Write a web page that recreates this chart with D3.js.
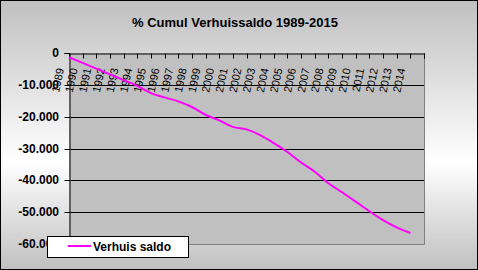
<!DOCTYPE html>
<html>
<head>
<meta charset="utf-8">
<script src="https://cdn.jsdelivr.net/npm/d3@7"></script>
<style>
  body { margin: 0; }
  svg { display: block; font-family: Arial, "Liberation Sans", sans-serif; }
</style>
</head>
<body>
<script>
// cumulative migration balance per year
const years = [1989, 1990, 1991, 1992, 1993, 1994, 1995, 1996, 1997, 1998, 1999, 2000, 2001,
    2002, 2003, 2004, 2005, 2006, 2007, 2008, 2009, 2010, 2011, 2012, 2013, 2014];
const saldo = [-1350, -3100, -4900, -6700, -8500, -10300, -12600, -13950, -15200, -16970, -19400, -21150, -23200,
    -24000, -25800, -28300, -31100, -34400, -37300, -40900, -43750, -46700, -49700, -52500, -54800, -56560];
const yTicks = [0, -10000, -20000, -30000, -40000, -50000, -60000];
const yLabels = ['0', '-10.000', '-20.000', '-30.000', '-40.000', '-50.000', '-60.000'];

const svgWidth = 478;
const svgHeight = 270;
const plot = { left: 69, right: 424, top: 53, bottom: 244 };

const svg = d3.select('body').append('svg')
.attr('width', svgWidth)
.attr('height', svgHeight)

const grad = svg.append('defs').append('linearGradient')
.attr('id', 'bg')
.attr('x1', 0).attr('y1', 0).attr('x2', 0).attr('y2', 1)
grad.append('stop').attr('offset', '0%').attr('stop-color', '#c0c0c0')
grad.append('stop').attr('offset', '60%').attr('stop-color', '#ffffff')
grad.append('stop').attr('offset', '100%').attr('stop-color', '#c0c0c0')

svg.append('rect')
.attr('x', 0.5).attr('y', 0.5)
.attr('width', svgWidth - 1).attr('height', svgHeight - 1)
.attr('fill', 'url(#bg)')
.attr('stroke', '#000')

svg.append('text')
.attr('x', 235).attr('y', 27)
.attr('text-anchor', 'middle')
.attr('font-size', 13).attr('font-weight', 'bold')
.text('% Cumul Verhuissaldo 1989-2015')

// one extra empty slot for 2015 at the right end
const x = d3.scaleLinear().domain([1989, 2015]).range([plot.left, plot.right]);
const y = d3.scaleLinear().domain([-60000, 0]).range([plot.bottom, plot.top]);

svg.append('rect')
.attr('x', plot.left).attr('y', plot.top)
.attr('width', plot.right - plot.left).attr('height', plot.bottom - plot.top)
.attr('fill', '#c0c0c0')

// gridlines
svg.append('g')
.selectAll('line')
.data(yTicks.filter((d) => d < 0 && d > -60000)).enter()
.append('line')
.attr('x1', plot.left).attr('x2', plot.right)
.attr('y1', (d) => Math.round(y(d)) + 0.5).attr('y2', (d) => Math.round(y(d)) + 0.5)
.attr('stroke', '#000')

// grey frame right and bottom
svg.append('path')
.attr('d', `M${plot.right + 0.5},${plot.top}V${plot.bottom + 0.5}H${plot.left}`)
.attr('fill', 'none')
.attr('stroke', '#808080')

// y axis
const yAxis = svg.append('g')
.attr('transform', `translate(${plot.left + 0.5},0)`)
.call(d3.axisLeft(y).tickValues(yTicks).tickSize(5).tickFormat((d, i) => ''))
yAxis.select('.domain').attr('stroke', '#000')
yAxis.selectAll('.tick').attr('transform', (d) => `translate(0,${Math.round(y(d)) + 0.5})`)

svg.append('g')
.selectAll('text')
.data(yTicks).enter()
.append('text')
.attr('x', 59)
.attr('y', (d) => y(d) + 4)
.attr('text-anchor', 'end')
.attr('font-size', 12).attr('font-weight', 'bold')
.text((d, i) => yLabels[i])

// x axis along the top, ticks pointing into the plot
const xAxis = svg.append('g')
.attr('transform', `translate(0,${plot.top + 0.5})`)
.call(d3.axisBottom(x).tickValues(d3.range(1989, 2016)).tickSize(5).tickFormat(''))
xAxis.selectAll('.tick').attr('transform', (d) => `translate(${Math.round(x(d)) + 0.5},0)`)

svg.append('g')
.selectAll('text')
.data(years).enter()
.append('text')
.attr('text-anchor', 'end')
.attr('font-size', 11)
.attr('transform', (d) => `translate(${x(d) - 5},69) rotate(-78)`)
.text((d) => d)

const line = d3.line()
.x((d, i) => x(years[i]))
.y((d) => y(d))
.curve(d3.curveMonotoneX)

svg.append('path')
.datum(saldo)
.attr('d', line)
.attr('fill', 'none')
.attr('stroke', '#ff00ff')
.attr('stroke-width', 2)

// legend
const legend = svg.append('g')
legend.append('rect')
.attr('x', 47.5).attr('y', 236.5)
.attr('width', 141).attr('height', 21)
.attr('fill', '#fff').attr('stroke', '#000')
legend.append('line')
.attr('x1', 68).attr('x2', 91)
.attr('y1', 246).attr('y2', 246)
.attr('stroke', '#ff00ff').attr('stroke-width', 2)
legend.append('text')
.attr('x', 93).attr('y', 251)
.attr('font-size', 12).attr('font-weight', 'bold')
.text('Verhuis saldo')
</script>
</body>
</html>
